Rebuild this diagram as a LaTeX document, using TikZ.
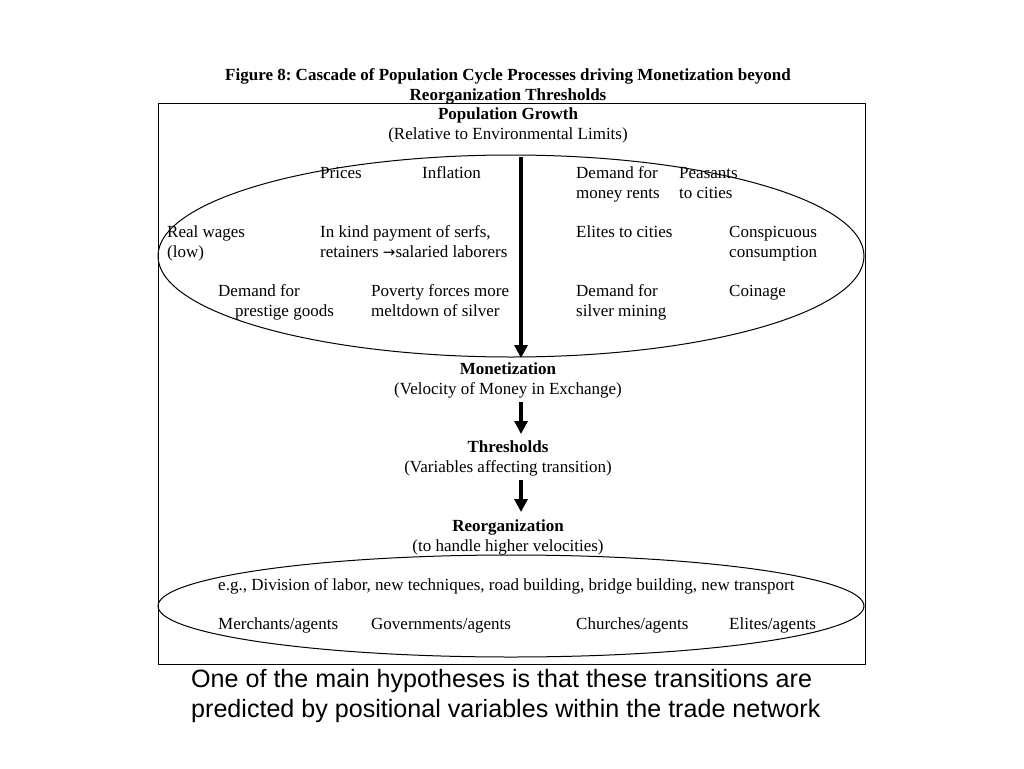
\documentclass[tikz,border=0pt]{standalone}
\usepackage{fontspec}
\setmainfont{Liberation Serif}
\newfontfamily\capfont{Liberation Sans}
\newfontfamily\arrfont{DejaVu Sans}
\usetikzlibrary{arrows.meta}
\newcommand{\st}{\rule{0pt}{13pt}}
\frenchspacing
\begin{document}
\begin{tikzpicture}[x=1pt,y=-1pt,
  txt/.style={inner sep=0pt,anchor=north west,align=left,font=\fontsize{17}{19.5}\selectfont},
  head/.style={inner sep=0pt,anchor=north,align=center,font=\fontsize{17}{19.5}\selectfont},
  flow/.style={line width=4pt,-{Triangle[length=13pt,width=13pt]}},
  oval/.style={draw,line width=1pt}]
\useasboundingbox (0,0) rectangle (1024,768);
\node[head,font=\bfseries\fontsize{17}{19.5}\selectfont] (title) at (508,67.5) {\st Figure 8: Cascade of Population Cycle Processes driving Monetization beyond\\Reorganization Thresholds};
\draw[line width=1pt] (158,103) rectangle (865,664);
\draw[oval] (511,256) ellipse [x radius=353, y radius=101];
\draw[oval] (511,606) ellipse [x radius=353, y radius=51];
\node[head] (pop) at (508,106.5) {\st\textbf{Population Growth}\\(Relative to Environmental Limits)};
\node[txt] (prices) at (320,165.5) {\st Prices};
\node[txt] (infl) at (422,165.5) {\st Inflation};
\node[txt] (dmr) at (576,165.5) {\st Demand for\\money rents};
\node[txt] (peas) at (679,165.5) {\st Peasants\\to cities};
\node[txt] (rw) at (167,224.5) {\st Real wages\\(low)};
\node[txt] (kind) at (320,224.5) {\st In kind payment of serfs,\\retainers {\arrfont\fontsize{15}{19.5}\selectfont →}salaried laborers};
\node[txt] (elc) at (576,224.5) {\st Elites to cities};
\node[txt] (consp) at (729,224.5) {\st Conspicuous\\consumption};
\node[txt] (dpg) at (218,283.5) {\st Demand for\\\hspace*{17pt}prestige goods};
\node[txt] (pov) at (371,283.5) {\st Poverty forces more\\meltdown of silver};
\node[txt] (dsm) at (576,283.5) {\st Demand for\\silver mining};
\node[txt] (coin) at (729,283.5) {\st Coinage};
\node[head] (mon) at (508,361.5) {\st\textbf{Monetization}\\(Velocity of Money in Exchange)};
\node[head] (thr) at (508,439.5) {\st\textbf{Thresholds}\\(Variables affecting transition)};
\node[head] (reo) at (508,518.5) {\st\textbf{Reorganization}\\(to handle higher velocities)};
\node[txt] (eg) at (218,577.5) {\st e.g., Division of labor, new techniques, road building, bridge building, new transport};
\node[txt] (merch) at (218,616.5) {\st Merchants/agents};
\node[txt] (gov) at (371,616.5) {\st Governments/agents};
\node[txt] (church) at (576,616.5) {\st Churches/agents};
\node[txt] (elag) at (729,616.5) {\st Elites/agents};
\node[inner sep=0pt,anchor=north west,align=left,font=\capfont\fontsize{25.1}{30}\selectfont] (cap) at (191,667) {\rule{0pt}{20pt}One of the main hypotheses is that these transitions are\\predicted by positional variables within the trade network};
\coordinate (a1) at (521,157);
\coordinate (a1e) at (521,358);
\coordinate (a2) at (521,402);
\coordinate (a2e) at (521,434);
\coordinate (a3) at (521,480);
\coordinate (a3e) at (521,512);
\draw[flow] (a1) -- (a1e);
\draw[flow] (a2) -- (a2e);
\draw[flow] (a3) -- (a3e);
\end{tikzpicture}
\end{document}
